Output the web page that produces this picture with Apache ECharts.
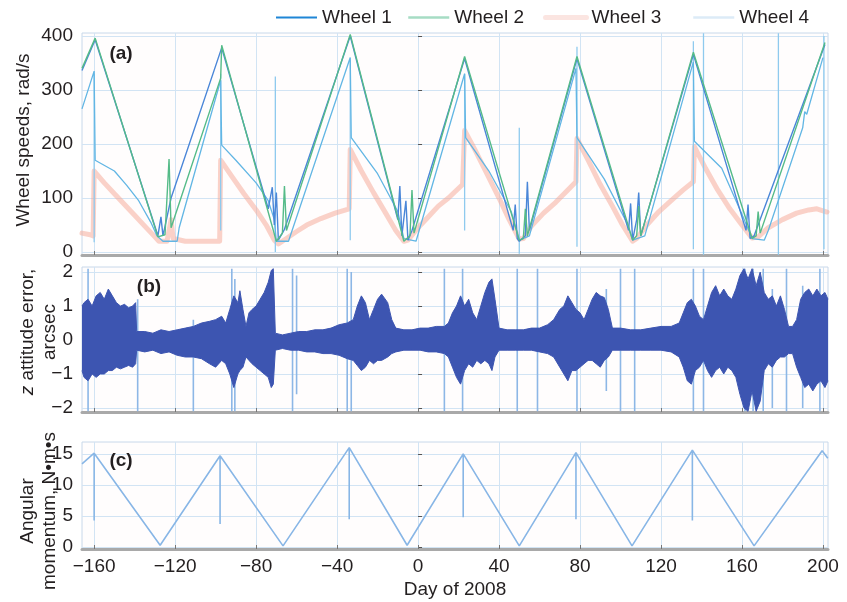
<!DOCTYPE html>
<html><head><meta charset="utf-8">
<script src="https://cdn.jsdelivr.net/npm/echarts@6/dist/echarts.min.js"></script>
<style>html,body{margin:0;padding:0;background:#fff}#c{width:847px;height:602px}</style>
</head><body><div id="c"></div>
<script>
// ---- tick values ----
const dayTicks = [-160,-120,-80,-40,0,40,80,120,160,200];
const speedTicks = [0,100,200,300,400];
const errTicks = [-2,-1,0,1,2];
const momTicks = [0,5,10,15];
const wheelNames = ['Wheel 1','Wheel 2','Wheel 3','Wheel 4'];

// ---- panel (a): wheel speeds, rad/s  [day, value] ----
const wheel1 = [[-166,336],[-159.5,393],[-128.5,30],[-127,65],[-126,30],[-122,100],[-97,378],[-74,80],[-72,120],[-71,50],[-70,110],[-69,22],[-66,42],[-33.5,400],[-10,60],[-9,122],[-8,30],[-6,95],[-5,22],[-3,40],[23,358],[47,40],[48,88],[49,25],[50,20],[53,30],[54,130],[55,40],[78.5,358],[104,40],[105,90],[106,22],[108,60],[109,110],[110,30],[136,366],[162,40],[163,88],[164,25],[166,30],[201,384]];
const wheel2 = [[-166,340],[-159.5,396],[-128.5,28],[-125,32],[-123,172],[-122,45],[-97.5,322],[-97,383],[-70,20],[-67,35],[-66,122],[-65,40],[-33.5,403],[-7,20],[-4,30],[-3,115],[-2,35],[23,362],[50,22],[52,25],[53,80],[54,30],[78.5,362],[106,22],[108,30],[109,85],[110,30],[136,370],[165,25],[167,30],[168,75],[169,35],[201,388]];
const wheel3 = [[-166,35],[-162,32],[-160.5,30],[-160,150],[-155,128],[-150,108],[-145,88],[-140,68],[-135,48],[-130,28],[-128,20],[-124,20],[-122,60],[-121,25],[-115,20],[-105,20],[-98,20],[-97.5,170],[-92,140],[-86,108],[-80,78],[-75,50],[-71,22],[-69,15],[-65,25],[-60,38],[-55,50],[-48,62],[-41,72],[-34,80],[-33.5,190],[-28,150],[-22,110],[-16,72],[-11,40],[-7,20],[-5,22],[0,45],[5,65],[10,85],[15,100],[22,125],[23,225],[28,190],[34,145],[40,100],[45,60],[50,24],[52,25],[56,48],[62,72],[68,92],[74,115],[78,130],[78.5,210],[84,170],[90,125],[96,85],[101,50],[106,20],[108,25],[113,50],[119,75],[125,95],[131,115],[136,130],[136.5,195],[142,155],[148,115],[154,80],[160,50],[165,26],[168,28],[173,45],[180,60],[187,72],[193,78],[197,80],[202,74]];
const wheel4 = [[-166,265],[-160,335],[-159.5,170],[-150,150],[-144,124],[-138,95],[-132,55],[-129,30],[-126,20],[-119,20],[-118,45],[-97.5,318],[-97,198],[-90,170],[-80,128],[-74,95],[-71,60],[-70,20],[-64,20],[-33.5,360],[-33,212],[-20,145],[-10,75],[-7,25],[-1,20],[23,330],[23.5,212],[35,150],[46,75],[50,22],[55,30],[78,340],[78.5,212],[92,135],[103,55],[106,22],[112,30],[136,352],[136.5,205],[150,155],[160,70],[165,25],[171,22],[173,40],[190,230],[191,260],[192,255],[200,360]];
// vertical spikes in (a): [day, low, high]
const spikesA = [[-160,18,330],[-97.5,40,330],[-70.5,0,325],[-33.5,22,355],[23,40,330],[50,-3,230],[78.5,10,380],[136,5,390],[141,-5,405],[178,-5,405],[200.5,5,400]];

// ---- panel (b): z attitude error envelope, arcsec ----
const attDays  = [-166,-165,-163,-161,-159,-157,-155,-153,-151,-149,-147,-145,-143,-141,-139.5,-139,-135,-131,-127,-123,-119,-115,-111,-107,-103,-100,-97,-95,-93,-91,-89,-88,-86.5,-85,-83.5,-82,-80,-78,-76,-74,-72.5,-71.5,-70.5,-67,-63,-59,-55,-51,-47,-43,-39,-35,-32,-30,-28,-26,-24,-22,-20,-18,-15,-13,-11,-7,-3,1,5,9,13,15,17,19,21,23,25,27,29,31,33,35,36.5,38,40,44,48,52,56,60,64,67,70,72,74,76,78,80,82,84,86,88,90,92,94,96,100,105,110,115,120,125,129,131,133,135,137,139,141,143,145,147,149,151,153,155,157,159,161,163,165,167,169,171,173,175,177,179,181,183,185,187,189,191,193,195,197,199,201,202.5];
const attUpper = [1.0,1.1,1.2,1.0,1.3,1.4,1.2,1.5,1.3,1.1,1.0,1.05,0.95,1.0,1.1,0.25,0.25,0.2,0.3,0.25,0.3,0.35,0.4,0.5,0.55,0.6,0.7,0.5,0.9,1.3,1.1,1.45,0.9,0.4,0.8,0.9,1.0,1.2,1.4,1.7,2.05,2.1,0.2,0.15,0.2,0.25,0.25,0.3,0.3,0.35,0.45,0.5,0.6,1.0,1.3,1.1,0.6,0.9,1.2,1.35,1.1,0.6,0.35,0.3,0.3,0.35,0.35,0.4,0.4,0.5,0.8,1.0,1.3,1.0,1.2,0.8,0.6,1.0,1.4,1.7,1.8,1.2,0.35,0.3,0.3,0.3,0.35,0.35,0.45,0.6,0.9,1.0,1.3,1.1,0.9,0.8,0.6,0.9,1.2,1.4,1.3,1.25,0.9,0.35,0.35,0.3,0.3,0.35,0.4,0.4,0.5,0.8,1.1,1.2,1.0,0.7,0.6,1.0,1.4,1.6,1.3,1.5,1.3,1.2,1.5,1.9,2.1,1.8,2.1,1.6,2.0,1.4,1.2,1.3,1.0,1.3,0.9,0.4,0.4,0.6,1.2,1.4,1.5,1.3,1.5,1.3,1.4,1.2];
const attLower = [-0.9,-1.1,-1.2,-1.0,-1.1,-1.0,-1.0,-0.9,-0.9,-0.8,-0.85,-0.8,-0.75,-0.8,-0.7,-0.3,-0.35,-0.3,-0.4,-0.35,-0.45,-0.5,-0.5,-0.55,-0.7,-0.8,-0.6,-0.7,-1.0,-1.4,-1.0,-0.9,-0.8,-0.5,-0.6,-0.7,-0.8,-0.9,-1.0,-1.1,-1.4,-1.3,-0.3,-0.25,-0.3,-0.3,-0.35,-0.35,-0.4,-0.4,-0.45,-0.55,-0.6,-0.75,-0.9,-0.8,-0.6,-0.7,-0.6,-0.6,-0.5,-0.4,-0.35,-0.3,-0.3,-0.3,-0.35,-0.35,-0.4,-0.5,-0.8,-1.1,-1.3,-0.9,-0.7,-0.8,-0.6,-0.7,-0.6,-0.7,-0.9,-0.5,-0.3,-0.3,-0.3,-0.3,-0.3,-0.35,-0.4,-0.5,-0.8,-1.0,-1.2,-0.9,-0.9,-0.8,-0.7,-0.6,-0.6,-0.7,-0.8,-0.6,-0.5,-0.3,-0.3,-0.3,-0.3,-0.3,-0.3,-0.35,-0.5,-0.8,-1.2,-1.3,-0.9,-0.8,-0.6,-0.9,-1.1,-0.9,-0.8,-1.0,-0.8,-0.9,-1.1,-1.6,-2.0,-2.1,-1.5,-2.1,-1.8,-0.9,-0.7,-0.8,-0.6,-0.5,-0.5,-0.4,-0.4,-0.8,-1.1,-1.4,-1.3,-1.5,-1.3,-1.2,-1.4,-1.2];
// vertical spikes in (b): [day, low, high]
const spikesB = [[-163,-2.1,2.1],[-138.5,-2.1,1.2],[-111,-2.1,0.6],[-92,-2.1,2.1],[-90.5,-2.1,1.8],[-62,-2.1,2.1],[-60,-1.6,1.9],[-35,-2.1,2.1],[-33,-2.1,2.0],[13,-2.1,2.1],[22,-2.1,2.1],[49,-2.1,2.1],[59,-2.1,2.1],[78.5,-2.1,2.1],[93,-1.5,1.5],[100,-2.1,2.1],[107,-2.1,2.1],[136,-2.1,2.1],[141,-2.1,2.1],[161.5,-2.1,2.1],[165.5,-2.1,2.1],[170.5,-2.1,2.1],[175,-2.0,1.5],[182,-2.1,2.1],[190,-2.0,1.6],[198.5,-2.1,2.1]];

// ---- panel (c): angular momentum, N·m·s ----
const momentum = [[-166,13.4],[-160,15.1],[-160,4.3],[-160,15.1],[-127.4,0.3],[-97.8,14.7],[-97.8,3.7],[-97.8,14.7],[-66.7,0.2],[-34,16.0],[-34,4.5],[-34,16.0],[-5.4,0.3],[22.3,15.0],[22.3,4.8],[22.3,15.0],[50,0.2],[78,15.2],[78,4.5],[78,15.2],[105.7,0.2],[135.5,15.6],[135.5,4.3],[135.5,15.6],[166,0.2],[199.6,15.5],[202.4,14.3]];

function spikeData(list){
  const out = [];
  list.forEach(s => { out.push([s[0], s[1]], [s[0], s[2]], [s[0], null]); });
  return out;
}
function zip(xs, ys){ return xs.map((x,i)=>[x, ys[i]]); }

const FONT = '"Liberation Sans", Arial, Helvetica, sans-serif';
const TXT = '#231f20';
const minus = v => String(v).replace('-', '\u2212');
const GRIDC = '#d2e4f4';

function xAxis(idx, showLabel){
  return {
    type:'value', gridIndex: idx, min:-166, max:202.5,
    axisLine:{show:true, onZero:false, lineStyle:{color:'#a9a9a9', width:3}},
    axisTick:{show:true, inside:true, length:4, customValues: dayTicks, lineStyle:{color:'#777'}},
    axisLabel:{show:showLabel, customValues: dayTicks, formatter: minus, fontSize:19, color:TXT, fontFamily:FONT, margin:8},
    splitLine:{show:true, lineStyle:{color:GRIDC, width:1}},
    name: showLabel ? 'Day of 2008' : '', nameLocation:'middle', nameGap:31,
    nameTextStyle:{fontSize:19, color:TXT, fontFamily:FONT}
  };
}
function yAxis(idx, min, max, ticks){
  return {
    type:'value', gridIndex: idx, min:min, max:max,
    axisLine:{show:false},
    axisTick:{show:true, inside:true, length:4, customValues: ticks, lineStyle:{color:'#555'}},
    axisLabel:{customValues: ticks, formatter: minus, fontSize:19, color:TXT, fontFamily:FONT, margin:9},
    splitLine:{show:true, lineStyle:{color:GRIDC, width:1}}
  };
}
const legendLeft = [275, 407, 543, 692];
const legendLine = [
  {color:'#1f86d6', width:2},
  {color:'#a6dcc4', width:2.5},
  {color:'#f8cbc3', width:5},
  {color:'#dcebf7', width:2.5}
];
const legends = wheelNames.map((n,i)=>({
  left: legendLeft[i], top:8, padding:0, itemWidth:41, itemHeight:12, itemGap:0,
  textStyle:{fontSize:19, color:TXT, fontFamily:FONT},
  itemStyle:{opacity:0},
  data:[{name:n, lineStyle:legendLine[i], itemStyle:{opacity:0}}]
}));

const chart = echarts.init(document.getElementById('c'), null, {renderer:'canvas'});
chart.setOption({
  animation:false,
  backgroundColor:'#ffffff',
  textStyle:{fontFamily:FONT},
  grid:[
    {left:82, right:19, top:33, height:222, show:true, borderColor:'#c8d8ea', borderWidth:1, backgroundColor:'#fffdfd'},
    {left:82, right:19, top:267, height:145, show:true, borderColor:'#c8d8ea', borderWidth:1, backgroundColor:'#fffdfd'},
    {left:82, right:19, top:442, height:107, show:true, borderColor:'#c8d8ea', borderWidth:1, backgroundColor:'#fffdfd'}
  ],
  xAxis:[xAxis(0,false), xAxis(1,false), xAxis(2,true)],
  yAxis:[yAxis(0,-5.5,405.5,speedTicks), yAxis(1,-2.12,2.15,errTicks), yAxis(2,-0.3,16.9,momTicks)],
  legend: legends,
  graphic:[
    {type:'text', x:24, y:140, rotation:Math.PI/2, style:{text:'Wheel speeds, rad/s', fontSize:19, fontFamily:FONT, fill:TXT, align:'center', verticalAlign:'middle', textAlign:'center', textVerticalAlign:'middle'}},
    {type:'text', x:39, y:332, rotation:Math.PI/2, style:{text:'{i|z} attitude error,\narcsec', fontSize:19, fontFamily:FONT, fill:TXT, lineHeight:22, align:'center', verticalAlign:'middle', textAlign:'center', textVerticalAlign:'middle', rich:{i:{fontStyle:'italic', fontSize:19, fontFamily:FONT, fill:TXT, lineHeight:22}}}},
    {type:'text', x:39, y:511, rotation:Math.PI/2, style:{text:'Angular\nmomentum, N\u2022m\u2022s', fontSize:19, fontFamily:FONT, fill:TXT, lineHeight:22, align:'center', verticalAlign:'middle', textAlign:'center', textVerticalAlign:'middle'}},
    {type:'text', x:121, y:54, z:100, style:{text:'(a)', fontSize:19, fontWeight:'bold', fontFamily:FONT, fill:TXT, align:'center', verticalAlign:'middle', textAlign:'center', textVerticalAlign:'middle'}},
    {type:'text', x:149, y:287, z:100, style:{text:'(b)', fontSize:19, fontWeight:'bold', fontFamily:FONT, fill:TXT, align:'center', verticalAlign:'middle', textAlign:'center', textVerticalAlign:'middle'}},
    {type:'text', x:121, y:461, z:100, style:{text:'(c)', fontSize:19, fontWeight:'bold', fontFamily:FONT, fill:TXT, align:'center', verticalAlign:'middle', textAlign:'center', textVerticalAlign:'middle'}}
  ],
  series:[
    {name:'Wheel 3', type:'line', xAxisIndex:0, yAxisIndex:0, data:wheel3, symbol:'none', z:2,
      lineStyle:{color:'#f5a593', width:5, opacity:0.5, cap:'round', join:'round'}},
    {name:'spikesA', type:'line', xAxisIndex:0, yAxisIndex:0, data:spikeData(spikesA), symbol:'none', z:2, connectNulls:false,
      lineStyle:{color:'#8fcaee', width:1.3}},
    {name:'Wheel 4', type:'line', xAxisIndex:0, yAxisIndex:0, data:wheel4, symbol:'none', z:3,
      lineStyle:{color:'#62b6e4', width:1.3}},
    {name:'Wheel 1', type:'line', xAxisIndex:0, yAxisIndex:0, data:wheel1, symbol:'none', z:4,
      lineStyle:{color:'#4a86d8', width:1.4}},
    {name:'Wheel 2', type:'line', xAxisIndex:0, yAxisIndex:0, data:wheel2, symbol:'none', z:5,
      lineStyle:{color:'#55bb88', width:1.4}},

    {name:'spikesB', type:'line', xAxisIndex:1, yAxisIndex:1, data:spikeData(spikesB), symbol:'none', z:2, connectNulls:false,
      lineStyle:{color:'#8db7e6', width:1.6}},
    {name:'errUpper', type:'line', xAxisIndex:1, yAxisIndex:1, data:zip(attDays, attUpper), symbol:'none', z:3,
      lineStyle:{color:'#3d55b1', width:1}, areaStyle:{color:'#3d55b1', opacity:1}},
    {name:'errLower', type:'line', xAxisIndex:1, yAxisIndex:1, data:zip(attDays, attLower), symbol:'none', z:3,
      lineStyle:{color:'#3d55b1', width:1}, areaStyle:{color:'#3d55b1', opacity:1}},

    {name:'momentum', type:'line', xAxisIndex:2, yAxisIndex:2, data:momentum, symbol:'none', z:3,
      lineStyle:{color:'#88b6e6', width:1.6}}
  ]
});
</script></body></html>
